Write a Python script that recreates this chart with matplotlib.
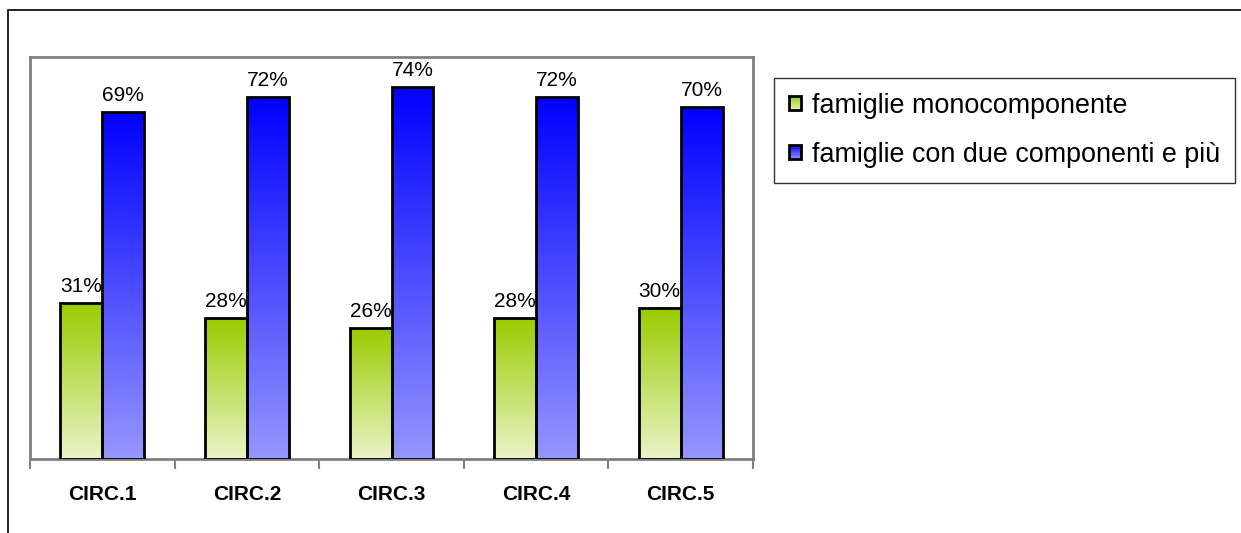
import numpy as np
import matplotlib.pyplot as plt
from matplotlib.patches import Rectangle
from matplotlib.legend_handler import HandlerBase

plt.rcParams['font.family'] = ['Liberation Sans', 'DejaVu Sans']

categorie = ['CIRC.1', 'CIRC.2', 'CIRC.3', 'CIRC.4', 'CIRC.5']
monocomponente = [0.31, 0.28, 0.26, 0.28, 0.30]
due_e_piu = [0.69, 0.72, 0.74, 0.72, 0.70]
etichette_mono = ['31%', '28%', '26%', '28%', '30%']
etichette_piu = ['69%', '72%', '74%', '72%', '70%']
nomi_serie = ['famiglie monocomponente', 'famiglie con due componenti e più']

# gradient colours: top of bar -> bottom of bar
verde = [(153, 204, 0), (234, 244, 200)]
blu = [(0, 0, 255), (150, 150, 255)]


def mix(colori, t):
    top = np.array(colori[0]) / 255
    bot = np.array(colori[1]) / 255
    return top * (1 - t) + bot * t


def gradiente(colori, n=256):
    t = np.linspace(0, 1, n)[:, None]
    return mix(colori, t)[:, None, :]


fig = plt.figure(figsize=(12.41, 5.33), dpi=100)
ax = fig.add_axes([30 / 1241, 1 - 459 / 533, 723 / 1241, 402 / 533])

x = np.arange(len(categorie))
w = 0.29


def barre_gradiente(xpos, valori, colori):
    bars = ax.bar(xpos, valori, w, facecolor='none', edgecolor='black',
                  linewidth=2, zorder=3)
    img = gradiente(colori)
    for b in bars:
        x0, y0 = b.get_x(), b.get_y()
        im = ax.imshow(img, extent=[x0, x0 + b.get_width(), y0, y0 + b.get_height()],
                       aspect='auto', zorder=2, interpolation='bilinear')
        im.set_clip_path(b)
    return bars


b1 = barre_gradiente(x - w / 2, monocomponente, verde)
b2 = barre_gradiente(x + w / 2, due_e_piu, blu)

for bars, testi in ((b1, etichette_mono), (b2, etichette_piu)):
    for b, t in zip(bars, testi):
        ax.annotate(t, (b.get_x() + b.get_width() / 2, b.get_height()),
                    xytext=(0, 5), textcoords='offset points',
                    ha='center', va='bottom', fontsize=15)

ax.set_xlim(-0.5, len(categorie) - 0.5)
ax.set_ylim(0, 0.8)
ax.set_yticks([])
ax.set_xticks(x)
ax.set_xticklabels(categorie, fontsize=15, fontweight='bold')
ax.tick_params(axis='x', which='major', length=0, pad=19)
ax.set_xticks(np.arange(len(categorie) + 1) - 0.5, minor=True)
ax.tick_params(axis='x', which='minor', length=7, width=1.5, color='#808080',
               direction='out')
for s in ax.spines.values():
    s.set_color('#808080')
    s.set_linewidth(2)


class Campione:
    def __init__(self, colori):
        self.colori = colori


class GradHandler(HandlerBase):
    def create_artists(self, legend, orig_handle, xdescent, ydescent,
                       width, height, fontsize, trans):
        n = 12
        arts = []
        for i in range(n):
            col = mix(orig_handle.colori, (i + 0.5) / n)
            arts.append(Rectangle((-xdescent, -ydescent + height * (1 - (i + 1) / n)),
                                  width, height / n, facecolor=col,
                                  edgecolor='none', transform=trans))
        arts.append(Rectangle((-xdescent, -ydescent), width, height,
                              facecolor='none', edgecolor='black', linewidth=2,
                              transform=trans))
        return arts


maniglie = [Campione(verde), Campione(blu)]
leg = fig.legend(maniglie, nomi_serie, handler_map={Campione: GradHandler()},
                 loc='upper left', bbox_to_anchor=(774 / 1241, 1 - 78 / 533),
                 fontsize=19.4, frameon=True, fancybox=False, borderaxespad=0,
                 handlelength=0.45, handleheight=0.45, handletextpad=0.4,
                 labelspacing=0.85, borderpad=0.55)
leg.get_frame().set_edgecolor('black')
leg.get_frame().set_linewidth(1.0)

# outer chart frame
fig.patches.append(Rectangle((8 / 1241, -0.1), 1.2, 1.1 - 10 / 533,
                             transform=fig.transFigure, facecolor='none',
                             edgecolor='black', linewidth=1.2))

fig.savefig('out.png', dpi=100)
